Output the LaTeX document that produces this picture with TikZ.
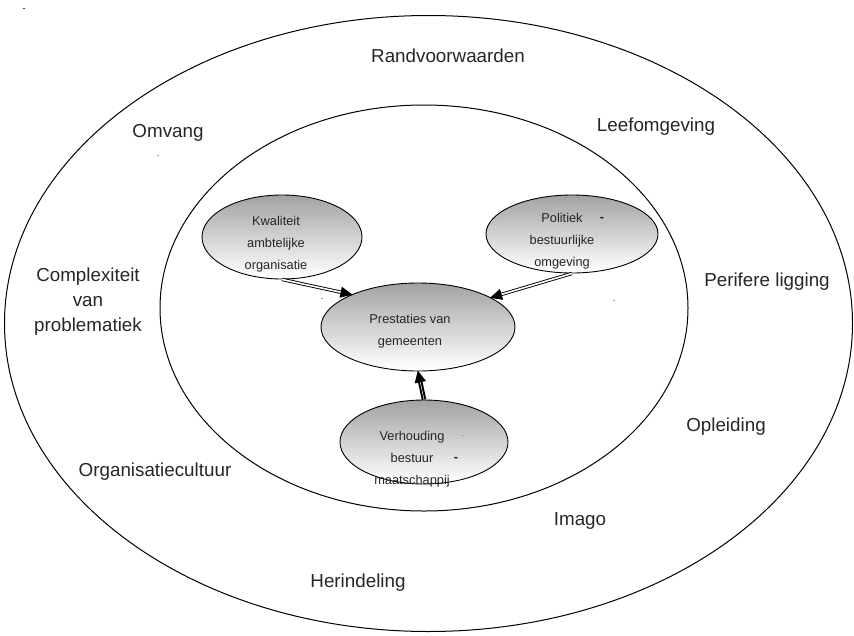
\documentclass[tikz,border=0pt]{standalone}
\usepackage{fontspec}
\setmainfont{Liberation Sans}
\usetikzlibrary{shapes.geometric,arrows.meta,calc}
\tikzset{
  ring/.style={draw=black, line width=1pt, ellipse, inner sep=0pt},
  bubble/.style={draw=black, line width=0.9pt, ellipse, inner sep=0pt, fill=white,
    path picture={
      \foreach \i in {0,...,29}{
        \pgfmathsetmacro\shadeval{36-\i*36/29}
        \fill[black!\shadeval]
          ($(path picture bounding box.north west)!{\i/30}!(path picture bounding box.south west)$)
          rectangle
          ($(path picture bounding box.north east)!{(\i+1.3)/30}!(path picture bounding box.south east)$);
      }
    }},
  biglabel/.style={font=\fontsize{18.8}{25}\selectfont, align=center, text=black!85, inner sep=0pt},
  smalllabel/.style={font=\fontsize{12.8}{22}\selectfont, align=center, text=black!85, inner sep=0pt},
  speck/.style={font=\fontsize{9}{9}\selectfont, text=black!55, inner sep=0pt},
  flow/.style={double=white, draw=black, line width=0.9pt, double distance=1.6pt, -{Triangle[length=12pt,width=11pt]}, shorten >=-1pt},
  flowv/.style={double=white, draw=black, line width=2pt, double distance=0.5pt, -{Triangle[length=12pt,width=11pt]}, shorten >=-1pt}
}
\begin{document}
\begin{tikzpicture}[x=1pt,y=-1pt]
\useasboundingbox (0,0) rectangle (854,635);
% rings
\node[ring, minimum width=848pt, minimum height=616pt] (outer) at (428.5,323.5) {};
\node[ring, minimum width=528pt, minimum height=406pt] (inner) at (424,308) {};
% bubbles
\node[bubble, minimum width=160pt, minimum height=84pt] (kwal) at (282,237) {};
\node[bubble, minimum width=172pt, minimum height=78pt] (pol) at (572,234) {};
\node[bubble, minimum width=194pt, minimum height=88pt] (prest) at (418,327) {};
\node[bubble, minimum width=168pt, minimum height=84pt] (verh) at (424,442) {};
% arrows
\draw[flow] (kwal.south) -- (prest.154);
\draw[flow] (pol.south) -- (prest.22);
\draw[flowv] (verh.north) -- (prest.south);
% bubble texts
\node[smalllabel] (tkwal) at (276,244) {Kwaliteit\\ambtelijke\\organisatie};
\node[smalllabel] (tpol) at (562,241) {Politiek\\bestuurlijke\\omgeving};
\node[smalllabel] (tprest) at (410,331) {Prestaties van\\gemeenten};
\node[smalllabel] (tverh) at (412,459) {Verhouding\\bestuur\\maatschappij};
\node[smalllabel, font=\fontsize{12.8}{22}\selectfont\bfseries] (dpol) at (602,219) {-};
\node[smalllabel, text=black!35] (dverh1) at (463,438) {-};
\node[smalllabel, font=\fontsize{12.8}{22}\selectfont\bfseries] (dverh2) at (456,459) {-};
% outer labels
\node[biglabel] (rand) at (448,56) {Randvoorwaarden};
\node[biglabel] (omv) at (168,133) {Omvang};
\node[biglabel] (leef) at (656,127) {Leefomgeving};
\node[biglabel] (compl) at (88,302) {Complexiteit\\van\\problematiek};
\node[biglabel] (perif) at (767,282) {Perifere ligging};
\node[biglabel] (opl) at (726,427) {Opleiding};
\node[biglabel] (org) at (155,472) {Organisatiecultuur};
\node[biglabel] (imago) at (580,521) {Imago};
\node[biglabel] (herin) at (358,583) {Herindeling};
% stray specks
\node[speck, text=black] (s0) at (24,10) {-};
\node[speck] (s1) at (158,157) {-};
\node[speck] (s2) at (322,300) {-};
\node[speck] (s3) at (614,302) {-};
\end{tikzpicture}
\end{document}
